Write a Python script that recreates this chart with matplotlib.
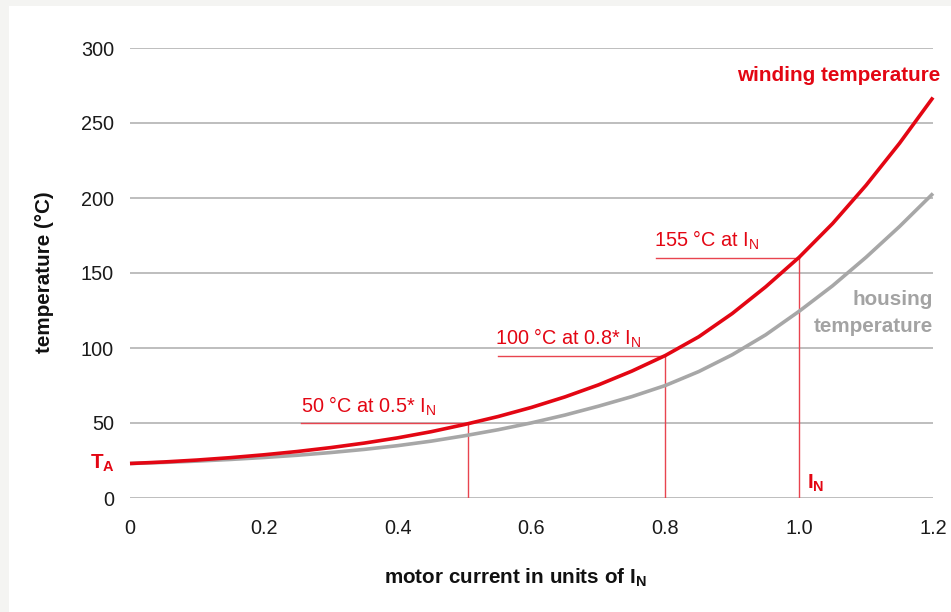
import matplotlib
matplotlib.use("Agg")
import matplotlib.pyplot as plt
from matplotlib.patches import Rectangle
import numpy as np

plt.rcParams['font.family'] = ['Liberation Sans', 'DejaVu Sans']
plt.rcParams['mathtext.fontset'] = 'custom'
plt.rcParams['mathtext.rm'] = 'Liberation Sans'
plt.rcParams['mathtext.bf'] = 'Liberation Sans:bold'
plt.rcParams['mathtext.it'] = 'Liberation Sans:italic'

# motor current (units of I_N) and temperatures
current = [0.00, 0.05, 0.10, 0.15, 0.20, 0.25, 0.30, 0.35, 0.40, 0.45, 0.50, 0.55,
           0.60, 0.65, 0.70, 0.75, 0.80, 0.85, 0.90, 0.95, 1.00, 1.05, 1.10, 1.15, 1.20]
winding = [23, 24, 25.3, 26.9, 28.8, 31.0, 33.6, 36.6, 40.1, 44.2, 49.0, 54.3,
           60.4, 67.4, 75.4, 84.6, 95.0, 107.5, 123.0, 140.8, 160.5, 183, 208.5, 236.5, 267]
housing = [23, 23.7, 24.6, 25.7, 27.0, 28.5, 30.3, 32.4, 34.9, 37.9, 41.5, 45.5,
           50.1, 55.3, 61.2, 67.6, 75.0, 84.3, 95.5, 108.8, 124.5, 141.5, 160.5, 181, 203]

# marked operating points
mark_x = [0.505, 0.8, 1.0]
mark_y = [50, 94.5, 160.3]
mark_text = ["50 °C at 0.5* I$_\\mathrm{N}$", "100 °C at 0.8* I$_\\mathrm{N}$", "155 °C at I$_\\mathrm{N}$"]
text_x = [0.255, 0.5456, 0.783]
text_y = [57, 102, 167.5]
line_start = [0.2556, 0.55, 0.786]

xticks = [0, 0.2, 0.4, 0.6, 0.8, 1.0, 1.2]
xtick_labels = ["0", "0.2", "0.4", "0.6", "0.8", "1.0", "1.2"]
yticks = [0, 50, 100, 150, 200, 250, 300]

red = '#e30613'
red_thin = '#e8444f'
grey_curve = '#a7a7a7'
grid_col = '#acacac'
fs = 14.3
fsb = 14.9

fig = plt.figure(figsize=(9.51, 6.12), dpi=100, facecolor='#f4f4f2')
fig.patches.append(Rectangle((9/951, 0), 1, 1 - 6/612, transform=fig.transFigure,
                             facecolor='white', edgecolor='none', zorder=-10))

ax = fig.add_axes([130/951, 114/612, 803/951, 450/612])
ax.set_facecolor('none')
ax.set_xlim(0, 1.2)
ax.set_ylim(0, 300)
for s in ax.spines.values():
    s.set_visible(False)
ax.set_xticks(xticks)
ax.set_xticklabels(xtick_labels)
ax.set_yticks(yticks)
ax.tick_params(axis='both', length=0, labelsize=fs, colors='#1a1a1a')
ax.tick_params(axis='y', pad=11.5)
ax.tick_params(axis='x', pad=15)
ax.yaxis.grid(True, color=grid_col, lw=1.1)
ax.set_axisbelow(True)

# marker lines
for i in range(len(mark_x)):
    ax.plot([line_start[i], mark_x[i]], [mark_y[i], mark_y[i]], color=red_thin, lw=1.0, zorder=2)
    ax.plot([mark_x[i], mark_x[i]], [0, mark_y[i]], color=red_thin, lw=1.0, zorder=2)
    ax.text(text_x[i], text_y[i], mark_text[i], color=red, fontsize=fs, ha='left', va='baseline')

ax.plot(current, housing, color=grey_curve, lw=2.6, zorder=3, clip_on=False,
        solid_capstyle='butt', solid_joinstyle='round')
ax.plot(current, winding, color=red, lw=2.6, zorder=4, clip_on=False,
        solid_capstyle='butt', solid_joinstyle='round')

# curve names
fig.text(940/951, 1 - 81/612, "winding temperature", color=red, fontsize=fsb, fontweight='bold',
         ha='right', va='baseline')
fig.text(933/951, 1 - 305/612, "housing", color='#a3a3a3', fontsize=fsb, fontweight='bold',
         ha='right', va='baseline')
fig.text(933/951, 1 - 332/612, "temperature", color='#a3a3a3', fontsize=fsb, fontweight='bold',
         ha='right', va='baseline')

# T_A and I_N
ax.text(-0.019, 23, "T$_\\mathbf{A}$", transform=ax.get_yaxis_transform(), color=red,
        fontsize=fsb, fontweight='bold', ha='right', va='center')
ax.text(1.012, 6, "I$_\\mathbf{N}$", color=red, fontsize=fsb, fontweight='bold', ha='left', va='baseline')

# axis titles
fig.text(45/951, 1 - 272/612, "temperature (°C)", rotation=90, fontsize=fsb, fontweight='bold',
         ha='center', va='center', color='#111111')
fig.text(515/951, 1 - 578/612, "motor current in units of I$_\\mathbf{N}$", fontsize=fsb,
         fontweight='bold', ha='center', va='center', color='#111111')

fig.savefig("out.png", dpi=100, facecolor=fig.get_facecolor())
